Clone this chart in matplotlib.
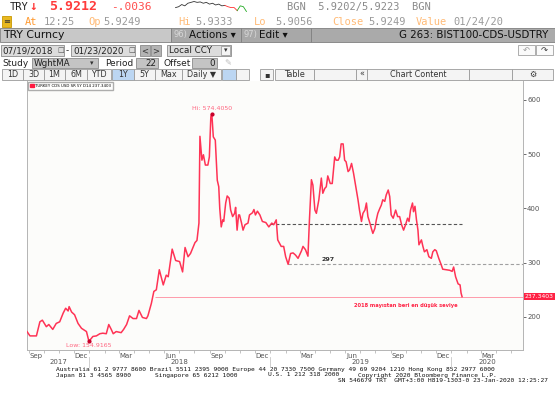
import matplotlib
matplotlib.use("Agg")
import matplotlib.pyplot as plt
import matplotlib.dates as mdates
import matplotlib.transforms as mtransforms
from matplotlib.patches import Rectangle, Patch
import pandas as pd

# TURKEY CDS USD SR 5Y
dates = [
    "2017-08-28", "2017-09-03", "2017-09-16", "2017-09-23", "2017-09-28", "2017-10-06",
    "2017-10-11", "2017-10-19", "2017-10-26", "2017-11-02", "2017-11-09", "2017-11-14",
    "2017-11-19", "2017-11-21", "2017-11-26", "2017-12-02", "2017-12-09", "2017-12-16",
    "2017-12-26", "2017-12-31", "2018-01-08", "2018-01-15", "2018-01-22", "2018-01-28",
    "2018-02-04", "2018-02-09", "2018-02-14", "2018-02-18", "2018-02-24", "2018-03-06",
    "2018-03-11", "2018-03-17", "2018-03-23", "2018-03-30", "2018-04-06", "2018-04-11",
    "2018-04-18", "2018-04-26", "2018-04-29", "2018-05-06", "2018-05-11", "2018-05-16",
    "2018-05-22", "2018-05-30", "2018-06-05", "2018-06-09", "2018-06-17", "2018-06-24",
    "2018-07-02", "2018-07-08", "2018-07-13", "2018-07-19", "2018-07-24", "2018-08-02",
    "2018-08-06", "2018-08-10", "2018-08-12", "2018-08-16", "2018-08-19", "2018-08-23",
    "2018-08-28", "2018-08-31", "2018-09-03", "2018-09-05", "2018-09-08", "2018-09-12",
    "2018-09-16", "2018-09-19", "2018-09-21", "2018-09-24", "2018-09-27", "2018-09-29",
    "2018-10-03", "2018-10-06", "2018-10-10", "2018-10-13", "2018-10-17", "2018-10-21",
    "2018-10-23", "2018-10-26", "2018-10-29", "2018-10-31", "2018-11-04", "2018-11-07",
    "2018-11-11", "2018-11-17", "2018-11-20", "2018-11-26", "2018-11-29", "2018-12-02",
    "2018-12-06", "2018-12-11", "2018-12-16", "2018-12-23", "2018-12-29", "2019-01-04",
    "2019-01-08", "2019-01-13", "2019-01-16", "2019-01-23", "2019-01-28", "2019-02-01",
    "2019-02-06", "2019-02-11", "2019-02-16", "2019-02-21", "2019-02-26", "2019-03-05",
    "2019-03-08", "2019-03-13", "2019-03-18", "2019-03-21", "2019-03-25", "2019-03-28",
    "2019-04-01", "2019-04-04", "2019-04-09", "2019-04-14", "2019-04-17", "2019-04-21",
    "2019-04-24", "2019-04-27", "2019-05-02", "2019-05-06", "2019-05-11", "2019-05-14",
    "2019-05-18", "2019-05-21", "2019-05-24", "2019-05-28", "2019-05-31", "2019-06-03",
    "2019-06-07", "2019-06-10", "2019-06-14", "2019-06-18", "2019-06-22", "2019-06-27",
    "2019-06-30", "2019-07-04", "2019-07-07", "2019-07-11", "2019-07-14", "2019-07-17",
    "2019-07-21", "2019-07-24", "2019-07-27", "2019-07-31", "2019-08-03", "2019-08-06",
    "2019-08-10", "2019-08-13", "2019-08-16", "2019-08-20", "2019-08-23", "2019-08-27",
    "2019-08-30", "2019-09-02", "2019-09-06", "2019-09-11", "2019-09-15", "2019-09-19",
    "2019-09-23", "2019-09-27", "2019-10-01", "2019-10-05", "2019-10-08", "2019-10-11",
    "2019-10-15", "2019-10-17", "2019-10-20", "2019-10-23", "2019-10-26", "2019-10-28",
    "2019-11-02", "2019-11-05", "2019-11-08", "2019-11-13", "2019-11-17", "2019-11-22",
    "2019-11-25", "2019-11-29", "2019-12-02", "2019-12-07", "2019-12-12", "2019-12-15",
    "2019-12-22", "2019-12-29", "2020-01-03", "2020-01-06", "2020-01-10", "2020-01-15",
    "2020-01-19", "2020-01-21", "2020-01-23",
]
cds = [
    173, 165, 165, 191, 194, 182,
    186, 177, 188, 191, 207, 216,
    211, 219, 209, 204, 188, 179,
    173, 154.9165, 164, 165, 169, 170,
    169, 186, 177, 169, 173, 171,
    177, 186, 202, 197, 197, 212,
    199, 197, 202, 225, 247, 250,
    287, 259, 277, 274, 325, 304,
    302, 283, 328, 311, 317, 337,
    341, 373, 533, 489, 499, 480,
    480, 495, 569, 574.4050, 532, 526,
    452, 440, 400, 366, 379, 376,
    410, 423, 419, 397, 385, 391,
    402, 360, 388, 388, 373, 360,
    370, 373, 388, 392, 398, 388,
    395, 388, 376, 374, 366, 373,
    370, 379, 342, 330, 330, 311,
    297, 317, 318, 314, 308, 322,
    330, 324, 312, 379, 453, 443,
    397, 391, 416, 456, 428, 437,
    440, 460, 446, 446, 495, 489,
    489, 495, 519, 519, 489, 486,
    468, 471, 483, 465, 443, 416,
    397, 376, 391, 397, 410, 385,
    373, 363, 354, 363, 379, 391,
    400, 406, 416, 413, 425, 434,
    422, 388, 382, 397, 385, 385,
    370, 360, 370, 382, 376, 397,
    410, 394, 404, 379, 360, 333,
    342, 330, 320, 324, 311, 308,
    320, 324, 322, 308, 296, 288,
    287, 286, 284, 292, 274, 261,
    259, 244, 237.3403,
]

hi_date, hi_val = "2018-09-05", 574.4050
low_date, low_val = "2017-12-31", 154.9165
last_val = 237.3403
level_dark = 371
level_dark_from, level_dark_to = "2018-12-31", "2020-01-23"
level_297 = 297
level_297_from = "2019-02-06"
level_last_from = "2018-05-13"
x_start, x_end = "2017-08-28", "2020-05-25"
y_ticks = [200, 300, 400, 500, 600]

# small intraday sparkline in the header
spark_black = [22, 20, 15, 18, 12, 10, 8, 10, 9, 12, 10, 14, 12, 16, 14, 18, 17]
spark_red = [17, 20, 22, 22, 29]
spark_green = [29, 18, 20, 31]

RED = "#ff3355"
W, H = 555, 400

fig = plt.figure(figsize=(W / 100, H / 100), dpi=100)
fig.patch.set_facecolor("white")

# ---------- header / footer drawn in pixel coordinates ----------
hdr = fig.add_axes([0, 0, 1, 1])
hdr.set_xlim(0, W)
hdr.set_ylim(H, 0)
hdr.axis("off")

MONO = "DejaVu Sans Mono"
SANS = "DejaVu Sans"


def box(x0, y0, x1, y1, fc, ec="#8c8c8c", lw=0.6):
    hdr.add_patch(Rectangle((x0, y0), x1 - x0, y1 - y0, facecolor=fc,
                            edgecolor=ec, linewidth=lw))


def txt(x, y, s, size=7, color="#222222", family=SANS, **kw):
    hdr.text(x, y, s, fontsize=size, color=color, family=family,
             va="center", **kw)


# row 1
txt(10, 7, "TRY", 7.5, "#222222", MONO)
txt(29, 7, "\u2193", 9, "#ff3b3b", MONO, fontweight="bold")
txt(49, 7, "5.9212", 9.5, "#ff3b3b", MONO, fontweight="bold")
txt(111, 7, "-.0036", 8, "#ff4d4d", MONO)
txt(287, 7, "BGN  5.9202/5.9223  BGN", 7.5, "#8a8a8a", MONO)

sp = fig.add_axes([172 / W, 1 - 12 / H, 78 / W, 11 / H])
sp.axis("off")
nb = len(spark_black)
sp.plot(range(nb), [-v for v in spark_black], color="#333333", lw=0.6)
sp.plot(range(nb - 1, nb - 1 + len(spark_red)), [-v for v in spark_red],
        color="#ff3030", lw=0.6)
g0 = nb - 2 + len(spark_red)
sp.plot(range(g0, g0 + len(spark_green)), [-v for v in spark_green],
        color="#22aa22", lw=0.6)

# row 2
box(2, 16, 11, 27, "#e8b820", ec="#c89800")
txt(6.5, 21.5, "\u2261", 6, "#333333", SANS, ha="center")
row2 = [("At", 25, "#ff9a30"), ("12:25", 44, "#9a9a9a"),
        ("Op", 88, "#ffbb77"), ("5.9249", 103, "#9a9a9a"),
        ("Hi", 178, "#ffbb77"), ("5.9333", 195, "#9a9a9a"),
        ("Lo", 254, "#ffbb77"), ("5.9056", 275, "#9a9a9a"),
        ("Close", 332, "#ffbb77"), ("5.9249", 368, "#9a9a9a"),
        ("Value", 416, "#ffbb77"), ("01/24/20", 453, "#9a9a9a")]
for s, x, c in row2:
    txt(x, 22, s, 7.5, c, MONO)

# row 3
box(0, 28, 171, 42, "#c8c8c8", ec="#808080")
txt(3, 35, "TRY Curncy", 7.8, "#111111")
box(171, 28, 241, 42, "#a8a8a8", ec="#808080")
txt(174, 35, "96)", 6, "#d8d8d8")
txt(189, 35, "Actions \u25be", 7.5, "#111111")
box(241, 28, 311, 42, "#a8a8a8", ec="#808080")
txt(244, 35, "97)", 6, "#d8d8d8")
txt(259, 35, "Edit \u25be", 7.5, "#111111")
box(311, 28, 555, 42, "#aaaaaa", ec="#808080")
txt(548, 35, "G 263: BIST100-CDS-USDTRY", 7.4, "#111111", ha="right")

# row 4
box(1, 45, 64, 56, "#dcdcdc")
txt(2, 50.5, "07/19/2018", 6.3, "#222222")
txt(57, 50.5, "\u25a1", 5, "#555555")
txt(66, 50.5, "-", 6.3, "#222222")
box(71, 45, 135, 56, "#dcdcdc")
txt(73, 50.5, "01/23/2020", 6.3, "#222222")
txt(128, 50.5, "\u25a1", 5, "#555555")
box(140, 45, 150, 56, "#b4b4b4")
txt(145, 50.5, "<", 6, "#333333", ha="center")
box(151, 45, 161, 56, "#b4b4b4")
txt(156, 50.5, ">", 6, "#333333", ha="center")
box(167, 45, 231, 56, "#dcdcdc")
txt(169, 50.5, "Local CCY", 6.3, "#222222")
box(221, 46, 230, 55, "#f4f4f4", ec="#a0a0a0")
txt(225.5, 50.5, "\u25be", 5, "#333333", ha="center")
box(518, 45, 535, 55, "#fafafa", ec="#a0a0a0")
txt(526.5, 50, "\u21b6", 6, "#999999", ha="center")
box(536, 45, 553, 55, "#fafafa", ec="#a0a0a0")
txt(544.5, 50, "\u21b7", 6, "#333333", ha="center")

# row 5
txt(2, 63, "Study", 6.5, "#222222")
box(32, 58, 98, 68, "#c4c4c4")
txt(34, 63, "WghtMA", 6.3, "#222222")
txt(92, 63, "\u25be", 5, "#333333", ha="center")
txt(105, 63, "Period", 6.5, "#222222")
box(136, 58, 158, 68, "#c4c4c4")
txt(156, 63, "22", 6.3, "#222222", ha="right")
txt(163, 63, "Offset", 6.5, "#222222")
box(192, 58, 217, 68, "#c4c4c4")
txt(215, 63, "0", 6.3, "#222222", ha="right")
txt(228, 63, "\u270e", 6, "#bbbbbb", ha="center")

# row 6 buttons
buttons = [("1D", 2, 23), ("3D", 23, 44), ("1M", 44, 65), ("6M", 65, 87),
           ("YTD", 87, 111), ("1Y", 112, 134), ("5Y", 134, 155),
           ("Max", 155, 182), ("Daily \u25bc", 182, 221), ("", 222, 236),
           ("", 236, 249), ("\u25aa", 260, 273), ("Table", 275, 314),
           ("", 314, 356), ("\u00ab", 356, 367), ("Chart Content", 367, 469),
           ("", 469, 512), ("\u2699", 512, 553)]
for s, x0, x1 in buttons:
    fc = "#f4f4f4"
    if s == "1Y" or x0 == 222:
        fc = "#bcd6f2"
    box(x0, 69, x1, 80, fc, ec="#9a9a9a")
    if s:
        txt((x0 + x1) / 2, 74.5, s, 5.8, "#333333", ha="center")

# footer
txt(56, 369, "Australia 61 2 9777 8600 Brazil 5511 2395 9000 Europe 44 20 "
    "7330 7500 Germany 49 69 9204 1210 Hong Kong 852 2977 6000",
    4.5, "#111111", MONO)
txt(56, 375, "Japan 81 3 4565 8900", 4.5, "#111111", MONO)
txt(155, 375, "Singapore 65 6212 1000", 4.5, "#111111", MONO)
txt(268, 375, "U.S. 1 212 318 2000", 4.5, "#111111", MONO)
txt(358, 375, "Copyright 2020 Bloomberg Finance L.P.", 4.5, "#111111", MONO)
txt(338, 381, "SN 546679 TRT  GMT+3:00 H819-1303-0 23-Jan-2020 12:25:27",
    4.5, "#111111", MONO)

# ---------- chart ----------
ax = fig.add_axes([27 / W, 1 - 350 / H, 496 / W, 269 / H])
ax.set_facecolor("#fcfcfa")

x = pd.to_datetime(dates)
ax.plot(x, cds, color=RED, lw=1.1, zorder=3)

xmin, xmax = pd.Timestamp(x_start), pd.Timestamp(x_end)
ax.set_xlim(xmin, xmax)
ax.set_ylim(139, 635)

# reference levels
ax.hlines(level_dark, pd.Timestamp(level_dark_from), pd.Timestamp(level_dark_to),
          colors="#555555", linestyles=(0, (3, 2)), lw=0.8, zorder=2)
ax.hlines(level_297, pd.Timestamp(level_297_from), xmax,
          colors="#a0a0a0", linestyles=(0, (3, 2)), lw=0.8, zorder=2)
ax.hlines(last_val, pd.Timestamp(level_last_from), xmax,
          colors="#ff9aaa", lw=0.7, zorder=2)
ax.text(pd.Timestamp("2019-04-27"), level_297 + 4, "297", fontsize=4.5,
        fontweight="bold", color="#333333", ha="center", va="bottom")
ax.text(pd.Timestamp("2019-10-02"), 221, "2018 mayıstan beri en düşük seviye",
        fontsize=3.7, fontweight="bold", color="#ff2244", ha="center", va="center")

# hi / low
ax.plot(pd.Timestamp(hi_date), hi_val, "o", ms=2, color="#c8002a", zorder=4)
ax.annotate(f"Hi: {hi_val:.4f}", (pd.Timestamp(hi_date), hi_val),
            xytext=(0, 2), textcoords="offset points", ha="center",
            va="bottom", fontsize=4.5, color="#ff6680")
ax.plot(pd.Timestamp(low_date), low_val, "o", ms=2, color="#c8002a", zorder=4)
ax.annotate(f"Low: {low_val:.4f}", (pd.Timestamp(low_date), low_val),
            xytext=(0, -1.5), textcoords="offset points", ha="center",
            va="top", fontsize=4.5, color="#ff6680")

# last value tag on the right
tr = mtransforms.blended_transform_factory(ax.transAxes, ax.transData)
ax.text(1.004, last_val, f"{last_val:.4f}", transform=tr, fontsize=4.4,
        color="white", va="center", ha="left", clip_on=False,
        bbox=dict(facecolor="#ff2244", edgecolor="none", pad=0.7))

# legend
ax.legend(handles=[Patch(color="#ff1a40",
                         label=f"TURKEY CDS USD SR 5Y D14 {last_val:.4f}")],
          loc="upper left", bbox_to_anchor=(0.0, 1.0), fontsize=2.8,
          frameon=True, fancybox=False, edgecolor="#999999",
          borderpad=0.5, handlelength=0.9, handleheight=0.9,
          handletextpad=0.4, borderaxespad=0.3)

# axes styling
for side in ("left", "bottom", "right"):
    ax.spines[side].set_color("#b4b4b4")
    ax.spines[side].set_linewidth(0.7)
ax.spines["top"].set_visible(False)

ax.yaxis.tick_right()
ax.set_yticks(y_ticks)
ax.tick_params(axis="y", labelsize=5, labelcolor="#555555", color="#555555",
               length=2, width=0.6, pad=1)

ax.xaxis.set_major_locator(mdates.MonthLocator(bymonth=[3, 6, 9, 12], bymonthday=15))
ax.xaxis.set_major_formatter(mdates.DateFormatter("%b"))
ax.xaxis.set_minor_locator(mdates.MonthLocator())
ax.tick_params(axis="x", which="major", length=0, labelsize=5,
               labelcolor="#555555", pad=2)
ax.tick_params(axis="x", which="minor", length=2, width=0.5, color="#aaaaaa")

# year labels under the month labels
trx = mtransforms.blended_transform_factory(ax.transData, ax.transAxes)
for yr in range(xmin.year, xmax.year + 1):
    a = max(xmin, pd.Timestamp(f"{yr}-01-01"))
    b = min(xmax, pd.Timestamp(f"{yr}-12-31"))
    ax.text(a + (b - a) / 2, -0.045, str(yr), transform=trx, fontsize=5,
            color="#555555", ha="center", va="center")
    if pd.Timestamp(f"{yr}-01-01") > xmin:
        ax.plot([pd.Timestamp(f"{yr}-01-01")] * 2, [-0.025, -0.065],
                transform=trx, color="#c8c8c8", lw=0.6, clip_on=False)

fig.savefig("out.png", dpi=100, facecolor="white")
